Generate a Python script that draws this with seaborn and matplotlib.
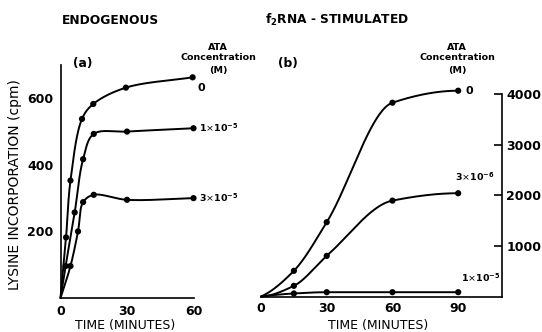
import numpy as np
import pandas as pd
import matplotlib
matplotlib.use("Agg")
import matplotlib.pyplot as plt
import seaborn as sns

# ---------------- data ----------------
# Panel (a) endogenous
a_time_0 = [0, 2.5, 4.5, 9.7, 14.8, 29.5, 59.6]
a_cpm_0 = [0, 182, 353, 538, 583, 632, 663]
a_time_1e5 = [0, 2.3, 6.4, 10.2, 15, 30, 60]
a_cpm_1e5 = [0, 96, 257, 417, 493, 500, 510]
a_time_3e5 = [0, 4.5, 7.9, 10.2, 15, 30, 60]
a_cpm_3e5 = [0, 96, 200, 288, 310, 295, 300]

# Panel (b) f2RNA-stimulated
b_time = [0, 15, 30, 60, 90]
b_cpm_0 = [0, 508, 1470, 3834, 4071]
b_cpm_3e6 = [0, 211, 804, 1897, 2043]
b_cpm_1e5 = [0, 60, 85, 85, 85]

a_xticks = [0, 30, 60]
a_yticks = [100, 200, 300, 400, 500, 600, 700]
a_ylabels = ["", "200", "", "400", "", "600", ""]
b_xticks = [0, 30, 60, 90]
b_yticks = [1000, 2000, 3000, 4000]

W, H = 542, 332


def pchip(x, y, xs):
    x = np.asarray(x, float)
    y = np.asarray(y, float)
    h = np.diff(x)
    d = np.diff(y) / h
    n = len(x)
    m = np.zeros(n)
    for k in range(1, n - 1):
        if d[k - 1] * d[k] > 0:
            w1 = 2 * h[k] + h[k - 1]
            w2 = h[k] + 2 * h[k - 1]
            m[k] = (w1 + w2) / (w1 / d[k - 1] + w2 / d[k])
    def endslope(h0, h1, d0, d1):
        s = ((2 * h0 + h1) * d0 - h0 * d1) / (h0 + h1)
        if np.sign(s) != np.sign(d0):
            s = 0.0
        elif np.sign(d0) != np.sign(d1) and abs(s) > abs(3 * d0):
            s = 3 * d0
        return s
    m[0] = endslope(h[0], h[1], d[0], d[1])
    m[-1] = endslope(h[-1], h[-2], d[-1], d[-2])
    idx = np.clip(np.searchsorted(x, xs) - 1, 0, n - 2)
    t = (xs - x[idx]) / h[idx]
    h00 = 2 * t**3 - 3 * t**2 + 1
    h10 = t**3 - 2 * t**2 + t
    h01 = -2 * t**3 + 3 * t**2
    h11 = t**3 - t**2
    return h00 * y[idx] + h10 * h[idx] * m[idx] + h01 * y[idx + 1] + h11 * h[idx] * m[idx + 1]


def catmull_rom(x, y, sx, sy, n=40, alpha=0.5):
    P = np.column_stack([np.asarray(x, float) * sx, np.asarray(y, float) * sy])
    P = np.vstack([2 * P[0] - P[1], P, 2 * P[-1] - P[-2]])
    out = []
    for i in range(1, len(P) - 2):
        p0, p1, p2, p3 = P[i - 1], P[i], P[i + 1], P[i + 2]
        t0 = 0.0
        t1 = t0 + np.linalg.norm(p1 - p0) ** alpha + 1e-9
        t2 = t1 + np.linalg.norm(p2 - p1) ** alpha + 1e-9
        t3 = t2 + np.linalg.norm(p3 - p2) ** alpha + 1e-9
        t = np.linspace(t1, t2, n)[:, None]
        A1 = (t1 - t) / (t1 - t0) * p0 + (t - t0) / (t1 - t0) * p1
        A2 = (t2 - t) / (t2 - t1) * p1 + (t - t1) / (t2 - t1) * p2
        A3 = (t3 - t) / (t3 - t2) * p2 + (t - t2) / (t3 - t2) * p3
        B1 = (t2 - t) / (t2 - t0) * A1 + (t - t0) / (t2 - t0) * A2
        B2 = (t3 - t) / (t3 - t1) * A2 + (t - t1) / (t3 - t1) * A3
        C = (t2 - t) / (t2 - t1) * B1 + (t - t1) / (t2 - t1) * B2
        out.append(C if i == 1 else C[1:])
    C = np.vstack(out)
    return C[:, 0] / sx, C[:, 1] / sy


def curve_df_cr(t, v, name, sx, sy):
    xs, ys = catmull_rom(t, v, sx, sy)
    return pd.DataFrame({"time": xs, "cpm": ys, "series": name})


def curve_df(t, v, name):
    xs = np.linspace(t[0], t[-1], 300)
    return pd.DataFrame({"time": xs, "cpm": pchip(t, v, xs), "series": name})


def pts_df(t, v, name):
    return pd.DataFrame({"time": t, "cpm": v, "series": name})


sns.set_style("white")
plt.rcParams["font.family"] = ["DejaVu Sans"]
plt.rcParams["mathtext.fontset"] = "dejavusans"

fig = plt.figure(figsize=(W / 100, H / 100), dpi=100)
fig.patch.set_facecolor("white")


def fx(x):
    return x / W


def fy(y):
    return 1 - y / H


ax_a = fig.add_axes([60.5 / W, (H - 298) / H, 133 / W, (298 - 65) / H])
ax_b = fig.add_axes([261 / W, (H - 296.5) / H, 241 / W, (296.5 - 94.3) / H])

lw = 1.4
ms = 20

# ----- panel a -----
a_series = [(a_time_0, a_cpm_0, "0"), (a_time_1e5, a_cpm_1e5, "1e-5"), (a_time_3e5, a_cpm_3e5, "3e-5")]
for t, v, nm in a_series:
    cd = curve_df_cr(t, v, nm, 2.22, 0.3325)
    sns.lineplot(data=cd, x="time", y="cpm", ax=ax_a, color="black", lw=lw,
                 sort=False, estimator=None, legend=False)
    pdf = pts_df(t[1:], v[1:], nm)
    sns.scatterplot(data=pdf, x="time", y="cpm", ax=ax_a, color="black", s=ms,
                    edgecolor="none", legend=False, clip_on=False)
for ln in ax_a.lines:
    ln.set_clip_on(False)

ax_a.set_xlim(0, 60)
ax_a.set_ylim(0, 700)
ax_a.set_xticks(a_xticks)
ax_a.set_xticklabels([str(v) for v in a_xticks])
ax_a.set_yticks(a_yticks)
ax_a.set_yticklabels(a_ylabels)
ax_a.tick_params(axis="both", direction="in", length=5, width=1.2, colors="black",
                 labelsize=9)
ax_a.tick_params(axis="x", pad=5)
ax_a.tick_params(axis="y", pad=5)
for lab in ax_a.get_xticklabels() + ax_a.get_yticklabels():
    lab.set_fontweight("bold")
for s in ["top", "right"]:
    ax_a.spines[s].set_visible(False)
for s in ["left", "bottom"]:
    ax_a.spines[s].set_color("black")
    ax_a.spines[s].set_linewidth(1.2)
ax_a.set_xlabel("")
ax_a.set_ylabel("")
ax_a.patch.set_alpha(0)

# ----- panel b -----
b_series = [(b_cpm_0, "0"), (b_cpm_3e6, "3e-6"), (b_cpm_1e5, "1e-5")]
for v, nm in b_series:
    cd = curve_df(b_time, v, nm)
    sns.lineplot(data=cd, x="time", y="cpm", ax=ax_b, color="black", lw=lw,
                 sort=False, estimator=None, legend=False)
    pdf = pts_df(b_time[1:], v[1:], nm)
    sns.scatterplot(data=pdf, x="time", y="cpm", ax=ax_b, color="black", s=ms,
                    edgecolor="none", legend=False, clip_on=False)
for ln in ax_b.lines:
    ln.set_clip_on(False)

ax_b.set_xlim(0, 110)
ax_b.set_ylim(0, 4000)
ax_b.set_xticks(b_xticks)
ax_b.set_xticklabels([str(v) for v in b_xticks])
ax_b.yaxis.tick_right()
ax_b.set_yticks(b_yticks)
ax_b.set_yticklabels([str(v) for v in b_yticks])
ax_b.tick_params(axis="x", length=0, pad=4, labelsize=9, colors="black")
ax_b.tick_params(axis="y", direction="in", length=6, width=1.2, pad=3,
                 labelsize=9, colors="black", right=True, left=False)
for lab in ax_b.get_xticklabels() + ax_b.get_yticklabels():
    lab.set_fontweight("bold")
for s in ["top", "left"]:
    ax_b.spines[s].set_visible(False)
for s in ["right", "bottom"]:
    ax_b.spines[s].set_color("black")
    ax_b.spines[s].set_linewidth(1.2)
ax_b.set_xlabel("")
ax_b.set_ylabel("")
ax_b.patch.set_alpha(0)

# ----- texts -----
bold = dict(fontweight="bold", color="black")
fig.text(fx(110), fy(21), "ENDOGENOUS", ha="center", va="center", fontsize=8.8, **bold)
fig.text(fx(265), fy(20), r"f$_{\mathbf{2}}$RNA - STIMULATED", ha="left", va="center",
         fontsize=8.8, **bold)
fig.text(fx(73), fy(63), "(a)", ha="left", va="center", fontsize=8.8, **bold)
fig.text(fx(278), fy(63), "(b)", ha="left", va="center", fontsize=8.8, **bold)

for cx in (218, 457):
    fig.text(fx(cx), fy(48), "ATA", ha="center", va="center", fontsize=6.8, **bold)
    fig.text(fx(cx), fy(58), "Concentration", ha="center", va="center", fontsize=6.8, **bold)
    fig.text(fx(cx), fy(71), "(M)", ha="center", va="center", fontsize=6.8, **bold)

lab_fs = 6.8
fig.text(fx(197), fy(88), "0", ha="left", va="center", fontsize=8, **bold)
fig.text(fx(199), fy(128), r"1$\times$10$^{\mathbf{-5}}$", ha="left", va="center", fontsize=lab_fs, **bold)
fig.text(fx(199), fy(198), r"3$\times$10$^{\mathbf{-5}}$", ha="left", va="center", fontsize=lab_fs, **bold)
fig.text(fx(465), fy(91), "0", ha="left", va="center", fontsize=8, **bold)
fig.text(fx(455), fy(177), r"3$\times$10$^{\mathbf{-6}}$", ha="left", va="center", fontsize=lab_fs, **bold)
fig.text(fx(461), fy(278), r"1$\times$10$^{\mathbf{-5}}$", ha="left", va="center", fontsize=lab_fs, **bold)

fig.text(fx(15), fy(185), "LYSINE INCORPORATION (cpm)", rotation=90, ha="center", va="center",
         fontsize=10, color="black")
fig.text(fx(125), fy(326), "TIME (MINUTES)", ha="center", va="center", fontsize=9, color="black")
fig.text(fx(378), fy(325), "TIME (MINUTES)", ha="center", va="center", fontsize=9, color="black")

fig.savefig("out.png", dpi=100, facecolor="white")
